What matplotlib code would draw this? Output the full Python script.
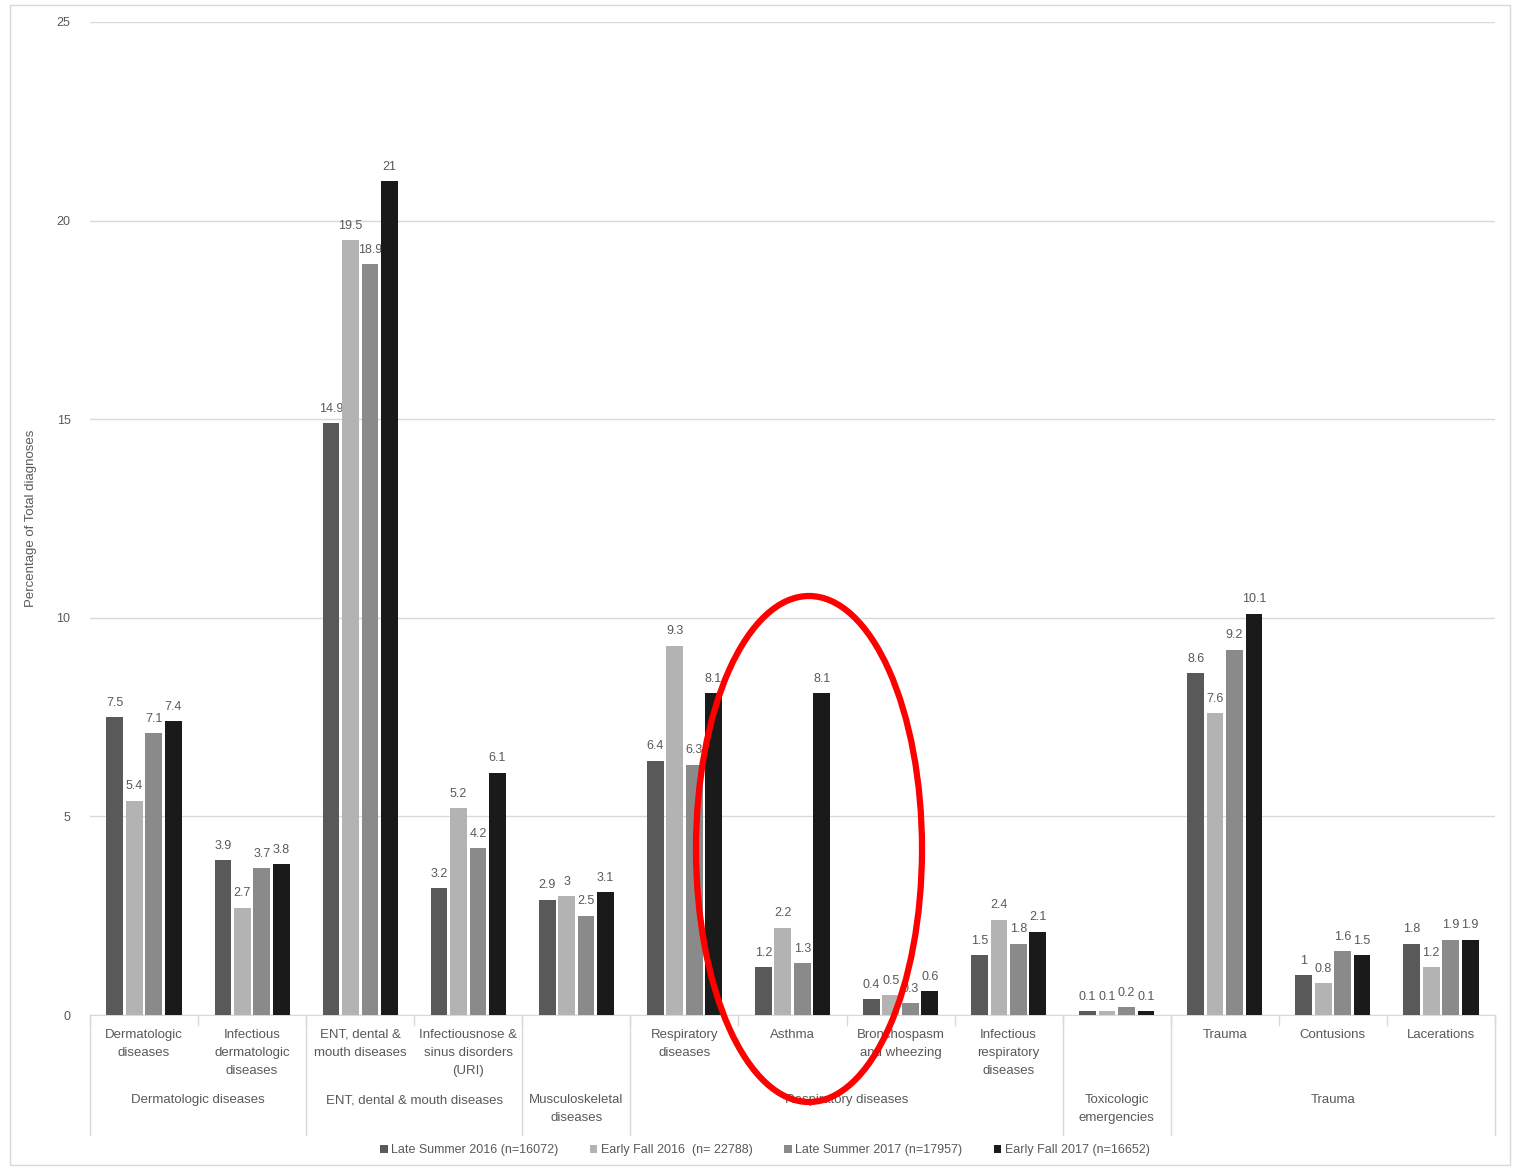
import numpy as np
import matplotlib.pyplot as plt
from matplotlib.patches import Ellipse, Rectangle
from matplotlib.lines import Line2D

categories = [
    "Dermatologic\ndiseases", "Infectious\ndermatologic\ndiseases",
    "ENT, dental &\nmouth diseases", "Infectiousnose &\nsinus disorders\n(URI)",
    "", "Respiratory\ndiseases", "Asthma", "Bronchospasm\nand wheezing",
    "Infectious\nrespiratory\ndiseases", "", "Trauma", "Contusions", "Lacerations",
]
groups = ["Dermatologic diseases", "ENT, dental & mouth diseases",
          "Musculoskeletal\ndiseases", "Respiratory diseases",
          "Toxicologic\nemergencies", "Trauma"]
group_sizes = [2, 2, 1, 4, 1, 3]

series = ["Late Summer 2016 (n=16072)", "Early Fall 2016  (n= 22788)",
          "Late Summer 2017 (n=17957)", "Early Fall 2017 (n=16652)"]
late_summer_2016 = [7.5, 3.9, 14.9, 3.2, 2.9, 6.4, 1.2, 0.4, 1.5, 0.1, 8.6, 1, 1.8]
early_fall_2016 = [5.4, 2.7, 19.5, 5.2, 3, 9.3, 2.2, 0.5, 2.4, 0.1, 7.6, 0.8, 1.2]
late_summer_2017 = [7.1, 3.7, 18.9, 4.2, 2.5, 6.3, 1.3, 0.3, 1.8, 0.2, 9.2, 1.6, 1.9]
early_fall_2017 = [7.4, 3.8, 21, 6.1, 3.1, 8.1, 8.1, 0.6, 2.1, 0.1, 10.1, 1.5, 1.9]
values = [late_summer_2016, early_fall_2016, late_summer_2017, early_fall_2017]
colors = ["#595959", "#b3b3b3", "#8a8a8a", "#1a1a1a"]

txt = "#595959"
plt.rcParams["font.family"] = ["Liberation Sans", "DejaVu Sans"]

fig = plt.figure(figsize=(15.14, 11.70), dpi=100)
ax = fig.add_axes([90 / 1514, 1 - 1015 / 1170, 1405 / 1514, 993 / 1170])

x = np.arange(len(categories))
w = 0.155
step = 0.18
for i, (vals, c) in enumerate(zip(values, colors)):
    bars = ax.bar(x + (i - 1.5) * step, vals, w, color=c, label=series[i], zorder=3)
    labels = [f"{v:g}" for v in vals]
    ax.bar_label(bars, labels=labels, padding=6, fontsize=9, color=txt)

ax.set_xlim(-0.5, len(categories) - 0.5)
ax.set_ylim(0, 25)
ax.set_yticks([0, 5, 10, 15, 20, 25])
ax.tick_params(axis="y", length=0, labelsize=9, labelcolor=txt, pad=14)
ax.set_xticks([])
ax.grid(axis="y", color="#d9d9d9", linewidth=1, zorder=0)
for s in ["top", "right", "left"]:
    ax.spines[s].set_visible(False)
ax.spines["bottom"].set_color("#d9d9d9")
ax.set_ylabel("Percentage of Total diagnoses", fontsize=9.5, color=txt, labelpad=14)

# category and group labels under the axis
tr = ax.get_xaxis_transform()
for xi, lab in zip(x, categories):
    ax.text(xi, -0.014, lab, transform=tr, ha="center", va="top",
            fontsize=9.5, color=txt, linespacing=1.65)
for k in range(len(categories) + 1):
    ax.add_line(Line2D([k - 0.5, k - 0.5], [0, -0.01], transform=tr,
                       color="#d9d9d9", lw=1, clip_on=False))
edges = np.concatenate([[0], np.cumsum(group_sizes)]) - 0.5
for e in edges:
    ax.add_line(Line2D([e, e], [0, -0.121], transform=tr,
                       color="#d9d9d9", lw=1, clip_on=False))
for g, a, b in zip(groups, edges[:-1], edges[1:]):
    ax.text((a + b) / 2, -0.08, g, transform=tr, ha="center", va="top",
            fontsize=9.5, color=txt, linespacing=1.65)

fig.legend(loc="center", bbox_to_anchor=(765 / 1514, 1 - 1150 / 1170), ncol=4,
           frameon=False, fontsize=9, labelcolor=txt, handlelength=0.6,
           handleheight=0.6, handletextpad=0.3, columnspacing=2.5)

# outer chart frame
fig.patches.append(Rectangle((10 / 1514, 5 / 1170), 1500 / 1514, 1160 / 1170,
                             transform=fig.transFigure, fill=False,
                             edgecolor="#d9d9d9", lw=1))
# red highlight ellipse
fig.patches.append(Ellipse((809 / 1514, 1 - 849 / 1170), 226 / 1514, 506 / 1170,
                           transform=fig.transFigure, fill=False,
                           edgecolor="#ff0000", lw=4.5, zorder=10))

fig.savefig("out.png", dpi=100)
